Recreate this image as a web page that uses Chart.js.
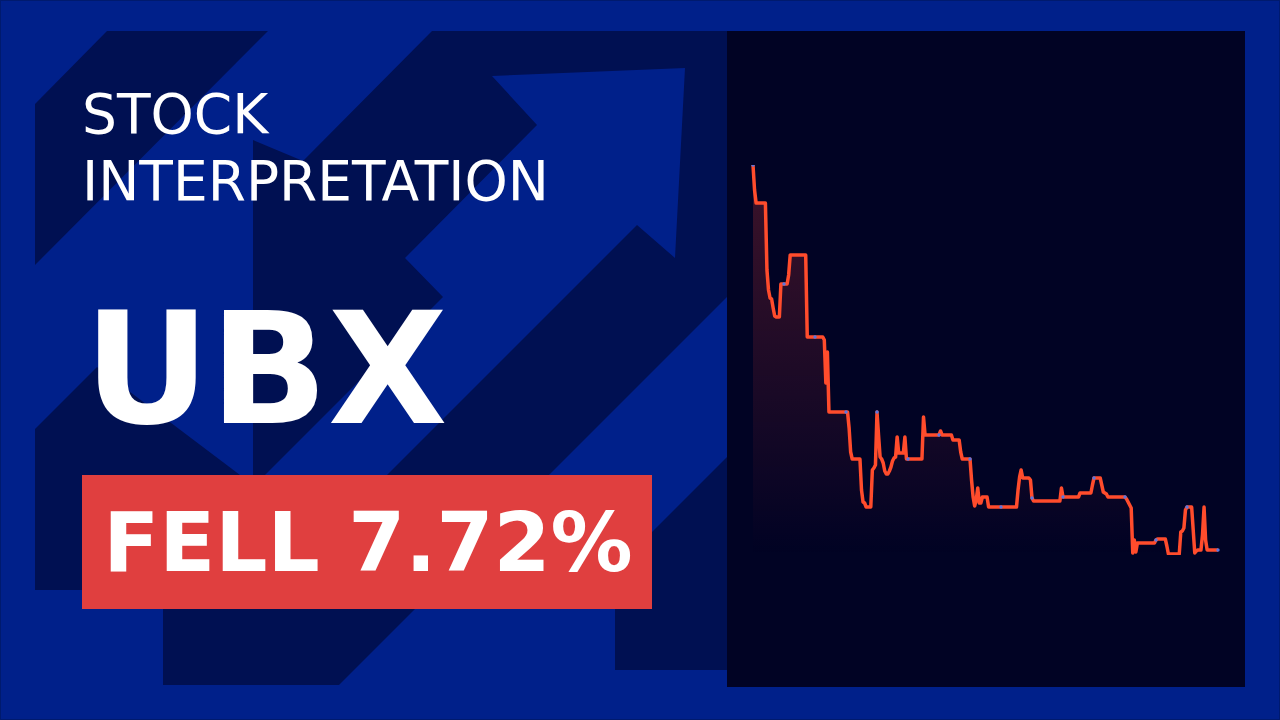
<!DOCTYPE html>
<html>
<head>
<meta charset="utf-8">
<script src="https://cdn.jsdelivr.net/npm/chart.js@4.4.1/dist/chart.umd.min.js"></script>
<style>
  html, body { margin: 0; padding: 0; background: #00208a; }
  #stage { position: relative; width: 1280px; height: 720px; overflow: hidden; }
  #bg { position: absolute; left: 0; top: 0; }
  #chartBox { position: absolute; left: 727px; top: 31px; width: 518px; height: 656px; }
</style>
</head>
<body>
<div id="stage">
  <svg id="bg" width="1280" height="720" viewBox="0 0 1280 720">
    <rect x="0" y="0" width="1280" height="720" fill="#00208a" stroke="#001a6e" stroke-width="2"/>
    <!-- dark arrow shapes -->
    <g fill="#001052">
      <polygon points="35,104 107,31 268,31 35,265"/>
      <polygon points="35,429 97,367 240,475 240,590 35,590"/>
      <polygon points="303,161 432,31 727,31 727,297 339,685 163,685 163,600 253,510 253,140"/>
      <polygon points="727,457 727,670 615,670 615,569"/>
    </g>
    <!-- bright arrow on top -->
    <polygon fill="#00208a" points="492,76 685,68 675,258 637,225 262,600 140,600 443,297 405,258 537,125"/>
    <!-- chart panel -->
    <rect x="727" y="31" width="518" height="656" fill="#010324"/>
    <!-- text -->
    <g font-family="DejaVu Sans, sans-serif" fill="#ffffff">
      <text x="82" y="133" font-size="55">STOCK</text>
      <text x="82" y="200" font-size="55">INTERPRETATION</text>
      <text x="84" y="423" font-size="155" font-weight="bold">UBX</text>
    </g>
    <rect x="82" y="475" width="570" height="134" fill="#e03f3f"/>
    <text x="368" y="571" font-family="DejaVu Sans, sans-serif" font-size="82" font-weight="bold" fill="#ffffff" text-anchor="middle">FELL 7.72%</text>
  </svg>
  <div id="chartBox"><canvas id="myChart" width="518" height="656"></canvas></div>
</div>
<script>
// price path (one value per step, dots every 20 steps)
const prices = [
    4.35, 4.10, 3.97, 3.97, 3.97, 3.97, 3.97, 3.97, 3.97, 3.30,
    3.10, 3.02, 3.01, 2.92, 2.84, 2.83, 2.83, 2.83, 3.16, 3.16,
    3.16, 3.16, 3.16, 3.25, 3.45, 3.45, 3.45, 3.45, 3.45, 3.45,
    3.45, 3.45, 3.45, 3.45, 3.45, 2.63, 2.63, 2.63, 2.63, 2.63,
    2.63, 2.63, 2.63, 2.63, 2.63, 2.63, 2.60, 2.17, 2.48, 1.88,
    1.88, 1.88, 1.88, 1.88, 1.88, 1.88, 1.88, 1.88, 1.88, 1.88,
    1.88, 1.88, 1.72, 1.48, 1.41, 1.41, 1.41, 1.41, 1.41, 1.41,
    1.10, 0.98, 0.97, 0.93, 0.93, 0.93, 0.93, 1.30, 1.32, 1.35,
    1.88, 1.65, 1.43, 1.41, 1.37, 1.29, 1.26, 1.26, 1.29, 1.33,
    1.39, 1.42, 1.43, 1.63, 1.47, 1.47, 1.47, 1.47, 1.63, 1.41,
    1.41, 1.41, 1.41, 1.41, 1.41, 1.41, 1.41, 1.41, 1.41, 1.41,
    1.83, 1.65, 1.65, 1.65, 1.65, 1.65, 1.65, 1.65, 1.65, 1.65,
    1.65, 1.69, 1.65, 1.65, 1.65, 1.65, 1.65, 1.65, 1.65, 1.60,
    1.60, 1.60, 1.60, 1.60, 1.48, 1.41, 1.41, 1.41, 1.41, 1.41,
    1.41, 1.20, 1.03, 0.94, 1.00, 1.12, 0.97, 0.97, 1.03, 1.03,
    1.03, 1.03, 0.93, 0.93, 0.93, 0.93, 0.93, 0.93, 0.93, 0.93,
    0.93, 0.93, 0.93, 0.93, 0.93, 0.93, 0.93, 0.93, 0.93, 0.93,
    0.93, 1.10, 1.23, 1.30, 1.22, 1.22, 1.22, 1.22, 1.22, 1.20,
    1.02, 0.99, 0.99, 0.99, 0.99, 0.99, 0.99, 0.99, 0.99, 0.99,
    0.99, 0.99, 0.99, 0.99, 0.99, 0.99, 0.99, 0.99, 0.99, 1.12,
    1.03, 1.03, 1.03, 1.03, 1.03, 1.03, 1.03, 1.03, 1.03, 1.03,
    1.03, 1.07, 1.07, 1.07, 1.07, 1.07, 1.07, 1.07, 1.07, 1.15,
    1.22, 1.22, 1.22, 1.22, 1.22, 1.15, 1.08, 1.07, 1.06, 1.03,
    1.03, 1.03, 1.03, 1.03, 1.03, 1.03, 1.03, 1.03, 1.03, 1.03,
    1.03, 1.01, 0.98, 0.95, 0.92, 0.47, 0.60, 0.48, 0.57, 0.57,
    0.57, 0.57, 0.57, 0.57, 0.57, 0.57, 0.57, 0.57, 0.57, 0.57,
    0.60, 0.61, 0.61, 0.61, 0.61, 0.61, 0.61, 0.54, 0.46, 0.46,
    0.46, 0.46, 0.46, 0.46, 0.46, 0.46, 0.68, 0.69, 0.72, 0.90,
    0.93, 0.93, 0.93, 0.93, 0.70, 0.47, 0.49, 0.50, 0.50, 0.50,
    0.65, 0.93, 0.60, 0.50, 0.50, 0.50, 0.50, 0.50, 0.50, 0.50,
    0.50
];
const labels = prices.map((p, i) => 'T' + (i + 1));
const priceMin = 0.45;
const priceMax = 4.35;

const ctx = document.getElementById('myChart').getContext('2d');
const myChart = new Chart(ctx, {
    type: 'line',
    data: {
        labels: labels,
        datasets: [{
            data: prices,
            borderColor: 'rgb(255, 76, 44)',
            borderWidth: 3.5,
            borderJoinStyle: 'round',
            tension: 0,
            fill: 'start',
            backgroundColor: (context) => {
                const area = context.chart.chartArea;
                if (!area) return 'rgba(255, 80, 60, 0.1)';
                const g = context.chart.ctx.createLinearGradient(0, area.top, 0, area.bottom);
                g.addColorStop(0, 'rgba(255, 70, 60, 0.24)');
                g.addColorStop(0.85, 'rgba(255, 70, 60, 0.04)');
                g.addColorStop(1, 'rgba(255, 70, 60, 0)');
                return g;
            },
            pointRadius: (c) => (c.dataIndex % 20 === 0 ? 1.7 : 0),
            pointBackgroundColor: '#5a76e0',
            pointBorderWidth: 0
        }]
    },
    options: {
        responsive: false,
        animation: false,
        layout: { padding: { left: 26, right: 27, top: 134, bottom: 132 } },
        plugins: { legend: { display: false }, tooltip: { enabled: false } },
        scales: {
            x: { display: false },
            y: { display: false, min: priceMin, max: priceMax }
        }
    }
});
</script>
</body>
</html>
